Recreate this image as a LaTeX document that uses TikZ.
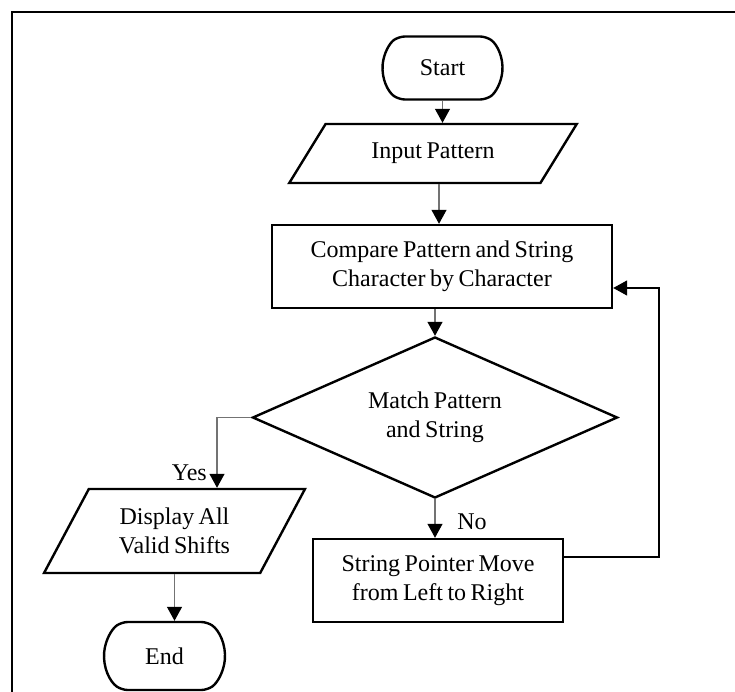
\documentclass[tikz,border=0pt]{standalone}
\usepackage{fontspec}
\setmainfont{Liberation Serif}[WordSpace=0.75]
\usetikzlibrary{shapes.geometric,shapes.misc,arrows.meta}
\begin{document}
\begin{tikzpicture}[x=1pt,y=-1pt,
  font=\fontsize{24}{29.5}\selectfont,
  shapeline/.style={draw=black,line width=2.4pt,align=center,inner sep=0pt},
  procbox/.style={shapeline,rectangle},
  term/.style={shapeline,rounded rectangle,rounded rectangle arc length=110,rounded corners=6pt},
  para/.style={shapeline,trapezium,trapezium stretches=true},
  dec/.style={shapeline,diamond,aspect=2.27},
  arr/.style={draw=black!55,line width=1.2pt,-{Triangle[length=14pt,width=15pt,color=black]}},
  looparr/.style={draw=black,line width=1.5pt,-{Triangle[length=14pt,width=15pt,color=black]}},
  lbl/.style={inner sep=0pt}
]
\useasboundingbox (0,0) rectangle (735,692);
\draw[line width=2.5pt] (12,692) -- (12,12) -- (735,12);

\node[term,minimum width=120pt,minimum height=63pt] (start) at (442.5,68) {Start};
\node[para,trapezium left angle=45,trapezium right angle=135,minimum width=288pt,minimum height=59pt] (inp) at (433,153.5) {Input Pattern};
\node[procbox,minimum width=340pt,minimum height=83pt] (cmp) at (442,266.5) {Compare Pattern and String\\Character by Character};
\node[dec,minimum width=365pt,minimum height=161pt] (dia) at (435,417.5) {Match Pattern\\and String};
\node[para,trapezium left angle=58,trapezium right angle=122,minimum width=261pt,minimum height=84pt] (disp) at (174.5,531) {Display All\\Valid Shifts};
\node[term,minimum width=121pt,minimum height=68pt] (end) at (164.5,656) {End};
\node[procbox,minimum width=250pt,minimum height=83pt] (sp) at (438,580.5) {String Pointer Move\\from Left to Right};

\node[lbl,anchor=east] (yes) at (207,473) {Yes};
\node[lbl] (no) at (472,522) {No};

\draw[arr] (start.south) -- (start.south |- inp.north);
\draw[arr] ([xshift=6pt]inp.south) -- ([xshift=6pt]inp.south |- cmp.north);
\draw[arr] (cmp.south -| dia.north) -- (dia.north);
\draw[arr] (dia.west) -| ([xshift=42.5pt]disp.north);
\draw[arr] (disp.south) -- (disp.south |- end.north);
\draw[arr] (dia.south) -- (dia.south |- sp.north);
\draw[looparr] ([yshift=23.5pt]sp.east) -- ++(95,0) |- ([yshift=-21.5pt]cmp.east);
\end{tikzpicture}
\end{document}
